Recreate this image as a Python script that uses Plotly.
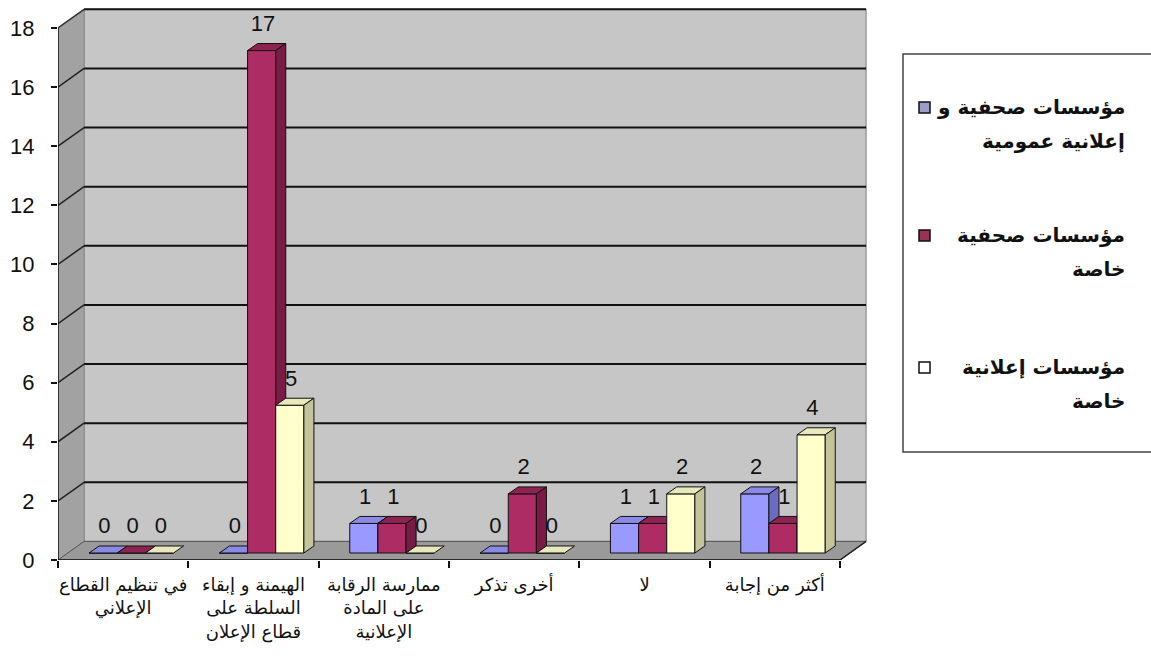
import numpy as np
import plotly.graph_objects as go

# ---- data ----
categories = [
    "في تنظيم القطاع<br>الإعلاني",
    "الهيمنة و إبقاء<br>السلطة على<br>قطاع الإعلان",
    "ممارسة الرقابة<br>على المادة<br>الإعلانية",
    "أخرى تذكر",
    "لا",
    "أكثر من إجابة",
]
series_names = [
    "مؤسسات صحفية و<br>إعلانية عمومية",
    "مؤسسات صحفية<br>خاصة",
    "مؤسسات إعلانية<br>خاصة",
]
public_media = [0, 0, 1, 0, 1, 2]
private_press = [0, 17, 1, 2, 1, 1]
private_advertising = [0, 5, 0, 0, 2, 4]
y_tick_values = [0, 2, 4, 6, 8, 10, 12, 14, 16, 18]

# ---- styling / geometry ----
BAR_W = 0.216          # width of a bar's front face (category units)
OFFSETS = [-0.1535, 0.0625, 0.2785]
BASE = 0.237           # bars stand on the floor, slightly behind the front edge
DX, DY = 0.077, 0.237  # bar depth projection
WX, WY = 0.2, 0.63     # wall depth projection
X_RANGE = [-0.5, 5.707]
Y_RANGE = [0, 18.71]

FRONT = ["#9999FF", "#AE2C64", "#FFFFCC"]
TOP = ["#8a8ae6", "#8e2251", "#e8e8bc"]
SIDE = ["#6b6bc0", "#781c46", "#c4c49c"]
LEGEND_SWATCH = ["#9d9dc8", "#993355", "#FFFFFF"]

FONT = "Liberation Sans, DejaVu Sans, Arial, sans-serif"
AR_FONT = "DejaVu Sans, Arial, sans-serif"

series_values = [public_media, private_press, private_advertising]
idx = np.arange(len(categories))

fig = go.Figure()

for s, vals in enumerate(series_values):
    xa = "x" if s == 0 else f"x{s + 1}"
    xc = idx + OFFSETS[s]
    v = np.array(vals, dtype=float)

    # front faces
    fig.add_trace(go.Bar(
        x=xc, y=v, base=BASE, width=BAR_W, xaxis=xa, yaxis="y",
        marker=dict(color=FRONT[s], line=dict(color="#111111", width=1)),
        name=series_names[s].replace("<br>", " "), showlegend=False,
        hoverinfo="skip",
    ))

    # top faces
    tx, ty = [], []
    for c, h in zip(xc, v):
        x0, x1, yt = c - BAR_W / 2, c + BAR_W / 2, BASE + h
        tx += [x0, x0 + DX, x1 + DX, x1, x0, None]
        ty += [yt, yt + DY, yt + DY, yt, yt, None]
    fig.add_trace(go.Scatter(
        x=tx, y=ty, xaxis=xa, yaxis="y", mode="lines", fill="toself",
        fillcolor=TOP[s], line=dict(color="#111111", width=1),
        showlegend=False, hoverinfo="skip",
    ))

    # side faces
    sx, sy = [], []
    for c, h in zip(xc, v):
        if h <= 0:
            continue
        x1, yt = c + BAR_W / 2, BASE + h
        sx += [x1, x1 + DX, x1 + DX, x1, x1, None]
        sy += [yt, yt + DY, BASE + DY, BASE, yt, None]
    fig.add_trace(go.Scatter(
        x=sx, y=sy, xaxis=xa, yaxis="y", mode="lines", fill="toself",
        fillcolor=SIDE[s], line=dict(color="#111111", width=1),
        showlegend=False, hoverinfo="skip",
    ))

    # value labels
    fig.add_trace(go.Scatter(
        x=xc + 0.01, y=BASE + v + 0.85, xaxis=xa, yaxis="y", mode="text",
        text=[str(int(h)) for h in v], textposition="middle center",
        textfont=dict(family=FONT, size=22, color="#111111"),
        showlegend=False, hoverinfo="skip", cliponaxis=False,
    ))

# ---- walls, floor and gridlines ----
x0, x1 = -0.5, 5.5
shapes = []
# back wall
shapes.append(dict(type="rect", xref="x", yref="y", x0=x0 + WX, x1=x1 + WX,
                   y0=WY, y1=18 + WY, fillcolor="#c6c6c6",
                   line=dict(color="#7a7a7a", width=1), layer="below"))
# left wall
shapes.append(dict(type="path", xref="x", yref="y",
                   path=f"M {x0},0 L {x0},18 L {x0 + WX},{18 + WY} L {x0 + WX},{WY} Z",
                   fillcolor="#a2a2a2", line=dict(color="#8a8a8a", width=1), layer="below"))
# floor
shapes.append(dict(type="path", xref="x", yref="y",
                   path=f"M {x0},0 L {x1},0 L {x1 + WX},{WY} L {x0 + WX},{WY} Z",
                   fillcolor="#9a9a9a", line=dict(color="#555555", width=1), layer="below"))
# gridlines on back wall and left wall
for k in y_tick_values[1:]:
    shapes.append(dict(type="line", xref="x", yref="y", x0=x0 + WX, x1=x1 + WX,
                       y0=k + WY, y1=k + WY, line=dict(color="#111111", width=2),
                       layer="below"))
    if k < 18:
        shapes.append(dict(type="line", xref="x", yref="y", x0=x0, x1=x0 + WX,
                           y0=k, y1=k + WY, line=dict(color="#222222", width=1.5),
                           layer="below"))
# top edge of the left wall
shapes.append(dict(type="line", xref="x", yref="y", x0=x0, x1=x0 + WX,
                   y0=18, y1=18 + WY, line=dict(color="#333333", width=1.5), layer="below"))
# axis lines
shapes.append(dict(type="line", xref="x", yref="y", x0=x0, x1=x0, y0=0, y1=18,
                   line=dict(color="#111111", width=1.5), layer="above"))
shapes.append(dict(type="line", xref="x", yref="y", x0=x0, x1=x1, y0=0, y1=0,
                   line=dict(color="#111111", width=1.5), layer="above"))
shapes.append(dict(type="line", xref="x", yref="y", x0=x1, x1=x1 + WX, y0=0, y1=WY,
                   line=dict(color="#222222", width=1.5), layer="above"))

# ---- custom right-to-left legend ----
L, T, PW, PH = 58, 7, 809, 553


def px_x(p):
    return (p - L) / PW


def px_y(p):
    return (T + PH - p) / PH


shapes.append(dict(type="rect", xref="paper", yref="paper",
                   x0=px_x(903), x1=px_x(1156), y0=px_y(452), y1=px_y(54),
                   fillcolor="white", line=dict(color="#444444", width=1.5)))
annotations = []
legend_rows = [107, 235, 367]
LINE_GAP = 34
for s, row in enumerate(legend_rows):
    shapes.append(dict(type="rect", xref="paper", yref="paper",
                       x0=px_x(919), x1=px_x(930), y0=px_y(row + 6), y1=px_y(row - 5),
                       fillcolor=LEGEND_SWATCH[s], line=dict(color="#111111", width=1.5)))
    for j, line in enumerate(series_names[s].split("<br>")):
        annotations.append(dict(xref="paper", yref="paper", x=px_x(1127),
                                y=px_y(row + j * LINE_GAP),
                                xanchor="right", yanchor="middle", align="right",
                                text="<b>" + line + "</b>", showarrow=False,
                                font=dict(family=AR_FONT, size=20, color="#111111")))

fig.update_layout(
    width=1151, height=660,
    margin=dict(l=L, r=1151 - L - PW, t=T, b=660 - T - PH),
    paper_bgcolor="white", plot_bgcolor="white",
    barmode="overlay", showlegend=False,
    shapes=shapes, annotations=annotations,
    xaxis=dict(range=X_RANGE, tickvals=idx, ticktext=categories, ticks="",
               showgrid=False, zeroline=False, showline=False, ticklabelstandoff=12,
               tickfont=dict(family=AR_FONT, size=18, color="#111111"),
               minor=dict(tickvals=np.arange(-0.5, 6.0, 1.0), ticks="outside",
                          ticklen=7, tickcolor="#111111", tickwidth=1.5, showgrid=False),
               fixedrange=True),
    xaxis2=dict(range=X_RANGE, overlaying="x", visible=False),
    xaxis3=dict(range=X_RANGE, overlaying="x", visible=False),
    yaxis=dict(range=Y_RANGE, tickvals=y_tick_values, ticks="outside", ticklen=6,
               tickcolor="#111111", tickwidth=1.5, showgrid=False, zeroline=False,
               showline=False, ticklabelstandoff=12,
               tickfont=dict(family=FONT, size=22, color="#111111")),
)

fig.write_html("out.html")
